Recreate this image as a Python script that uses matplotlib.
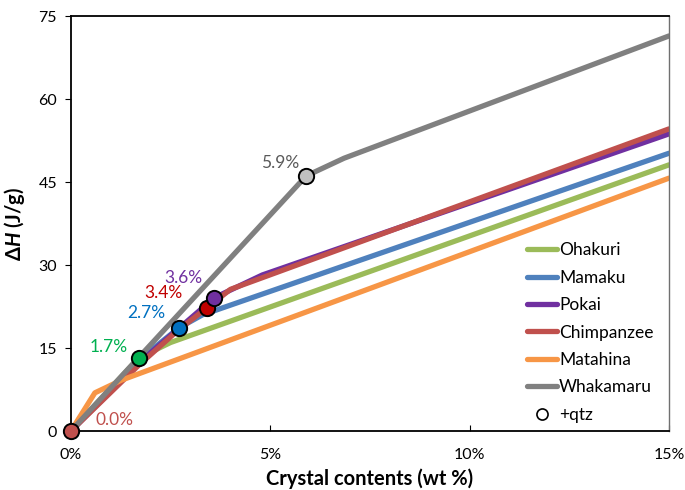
import matplotlib.pyplot as plt
from matplotlib.lines import Line2D
from matplotlib.ticker import FuncFormatter

plt.rcParams['font.family'] = ['Lato', 'DejaVu Sans']
plt.rcParams['mathtext.fontset'] = 'custom'
plt.rcParams['mathtext.rm'] = 'Lato'
plt.rcParams['mathtext.bf'] = 'Lato:bold'
plt.rcParams['mathtext.bfit'] = 'Lato:bold:italic'

# crystal content (wt %) and enthalpy (J/g) for each sample
ohakuri_x = [0, 1.7, 2.5, 15]
ohakuri_y = [0, 13.2, 16.0, 48.1]
mamaku_x = [0, 1.7, 2.7, 3.3, 15]
mamaku_y = [0, 12.8, 18.6, 21.0, 50.2]
pokai_x = [0, 1.7, 2.7, 3.6, 4.8, 15]
pokai_y = [0, 12.3, 18.5, 24.1, 28.2, 53.7]
chimp_x = [0, 1.7, 2.7, 3.4, 4.0, 15]
chimp_y = [0, 11.9, 18.3, 22.2, 25.6, 54.6]
matahina_x = [0, 0.6, 1.27, 15]
matahina_y = [0, 6.9, 9.2, 45.7]
whakamaru_x = [0, 5.9, 6.85, 15]
whakamaru_y = [0, 46.1, 49.3, 71.4]

# quartz-in points
qtz_x = [0.0, 1.7, 2.7, 3.4, 3.6, 5.9]
qtz_y = [0.0, 13.2, 18.6, 22.2, 24.1, 46.1]
qtz_labels = ['0.0%', '1.7%', '2.7%', '3.4%', '3.6%', '5.9%']
qtz_colors = ['#C0504D', '#00B050', '#0070C0', '#C00000', '#7030A0', '#C0C0C0']
qtz_text_colors = ['#C0504D', '#00B050', '#0070C0', '#C00000', '#7030A0', '#595959']
label_x = [1.08, 0.94, 1.9, 2.31, 2.82, 5.24]
label_y = [1.9, 15.1, 21.3, 25.0, 27.6, 48.5]

series = [
    ('Ohakuri', ohakuri_x, ohakuri_y, '#9BBB59'),
    ('Mamaku', mamaku_x, mamaku_y, '#4F81BD'),
    ('Pokai', pokai_x, pokai_y, '#7030A0'),
    ('Chimpanzee', chimp_x, chimp_y, '#C0504D'),
    ('Matahina', matahina_x, matahina_y, '#F79646'),
    ('Whakamaru', whakamaru_x, whakamaru_y, '#808080'),
]

fig = plt.figure(figsize=(6.85, 4.9), dpi=100)
ax = fig.add_axes([0.1036, 0.1204, 0.873, 0.8469])

for name, xs, ys, col in series:
    ax.plot([v / 100 for v in xs], ys, color=col, lw=3.8, label=name,
            solid_capstyle='round', solid_joinstyle='round')

for x, y, c in zip(qtz_x, qtz_y, qtz_colors):
    ax.plot(x / 100, y, 'o', ms=11, mfc=c, mec='black', mew=1.4,
            clip_on=False, zorder=5)

for lx, ly, t, c in zip(label_x, label_y, qtz_labels, qtz_text_colors):
    ax.text(lx / 100, ly, t, color=c, fontsize=12.5, ha='center', va='center')

ax.set_xlim(0, 0.15)
ax.set_ylim(0, 75)
ax.set_xticks([0, 0.05, 0.10, 0.15])
ax.set_yticks([0, 15, 30, 45, 60, 75])
ax.xaxis.set_major_formatter(FuncFormatter(lambda v, p: f'{v * 100:.0f}%'))
ax.tick_params(axis='y', direction='out', length=4, labelsize=11.5, pad=6)
ax.tick_params(axis='x', direction='in', length=4, labelsize=11.5, pad=12)

for s in ax.spines.values():
    s.set_linewidth(1.3)
    s.set_color('black')
ax.spines['right'].set_color('#707070')
ax.spines['right'].set_linewidth(1.0)

ax.set_xlabel('Crystal contents (wt %)', fontsize=14.5, fontweight='bold', labelpad=5)
ax.set_ylabel(r'$\mathbf{\Delta}\mathbfit{H}$ (J/g)', fontsize=14.5, fontweight='bold', labelpad=8)

handles, labels = ax.get_legend_handles_labels()
handles.append(Line2D([0], [0], marker='o', ls='none', mfc='white', mec='black',
                      mew=1.2, ms=8))
labels.append('+qtz')
ax.legend(handles, labels, loc='upper left', bbox_to_anchor=(0.7625, 0.455),
          frameon=False, fontsize=12.5, handlelength=1.75, handletextpad=0.1,
          labelspacing=0.66, borderaxespad=0, borderpad=0)

plt.savefig('out.png', dpi=100)
